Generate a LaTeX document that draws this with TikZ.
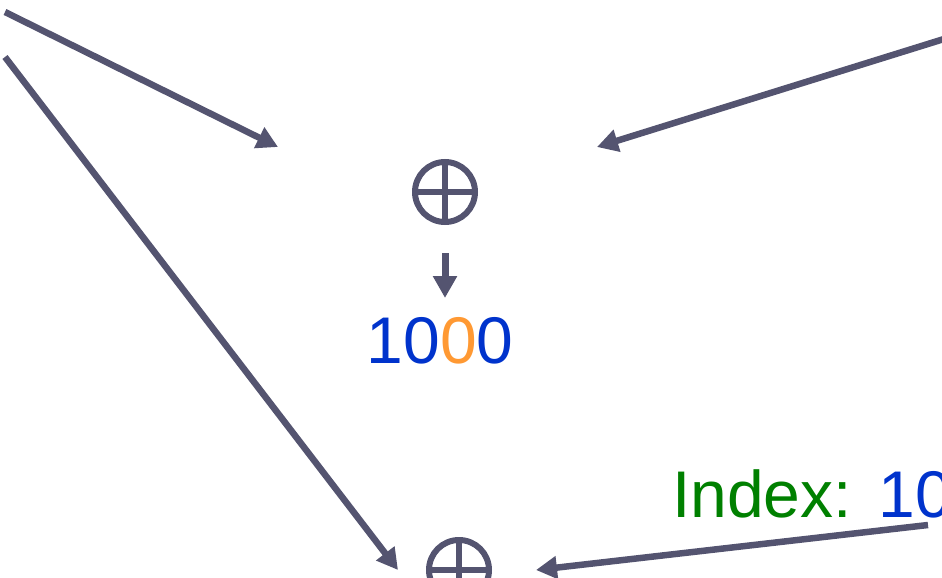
\documentclass[tikz,border=0pt]{standalone}
\usepackage{fontspec}
\setmainfont{Liberation Sans}
\usetikzlibrary{arrows.meta}
\definecolor{arrowgray}{RGB}{84,84,112}
\definecolor{numblue}{RGB}{0,51,204}
\definecolor{numorange}{RGB}{255,153,51}
\definecolor{idxgreen}{RGB}{0,128,0}
\begin{document}
\begin{tikzpicture}[x=1pt,y=-1pt,
  conn/.style={line width=6.5pt, draw=arrowgray, -{Triangle[length=21pt,width=22pt]}},
  smallconn/.style={line width=7pt, draw=arrowgray, -{Triangle[length=22pt,width=23pt]}},
  oplus/.style={circle, draw=arrowgray, line width=6pt, minimum size=60pt, inner sep=0pt,
    path picture={\draw[arrowgray,line width=6pt]
      (path picture bounding box.north) -- (path picture bounding box.south)
      (path picture bounding box.west) -- (path picture bounding box.east);}},
  numtxt/.style={font=\fontsize{66}{70}\selectfont, inner sep=0pt}]
\useasboundingbox (0,0) rectangle (942,578);
\clip (0,0) rectangle (942,578);
% operators
\node[oplus] (xor1) at (445,192) {};
\node[oplus] (xor2) at (459,570) {};
% result
\node[numtxt, anchor=base] (res) at (440,363) {\textcolor{numblue}{10}\textcolor{numorange}{0}\textcolor{numblue}{0}};
\node[numtxt, anchor=base west] (idx) at (672,517) {\textcolor{idxgreen}{Index:}\hspace{0.4em}\textcolor{numblue}{10}};
% coordinates
\coordinate (s1) at (5,12);
\coordinate (t1) at (278,147);
\coordinate (s2) at (5,57);
\coordinate (t2) at (398,570);
\coordinate (s3) at (960,34);
\coordinate (t3) at (597,147);
\coordinate (s4) at (928,525);
\coordinate (t4) at (536,570);
\coordinate (d1) at (445,253);
\coordinate (d2) at (445,298);
% connectors
\draw[conn] (s1) -- (t1);
\draw[conn] (s2) -- (t2);
\draw[conn] (s3) -- (t3);
\draw[conn] (s4) -- (t4);
\draw[smallconn] (d1) -- (d2);
\end{tikzpicture}
\end{document}
